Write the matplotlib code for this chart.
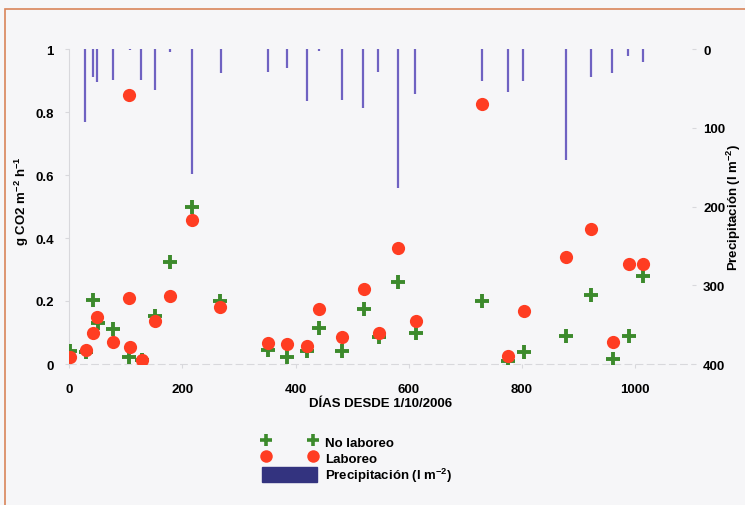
import matplotlib
matplotlib.use("Agg")
import matplotlib.pyplot as plt
from matplotlib.patches import Rectangle, Patch
from matplotlib.lines import Line2D
from matplotlib.ticker import FuncFormatter

plt.rcParams["font.family"] = ["Liberation Sans", "DejaVu Sans"]
plt.rcParams["font.weight"] = "bold"
plt.rcParams["axes.labelweight"] = "bold"
plt.rcParams["mathtext.fontset"] = "custom"
plt.rcParams["mathtext.rm"] = "Liberation Sans:bold"
plt.rcParams["mathtext.bf"] = "Liberation Sans:bold"
plt.rcParams["mathtext.default"] = "bf"

# Laboreo (tilled) flux, g CO2 m-2 h-1
lab_days = [1, 30, 43, 50, 78, 106, 106, 108, 129, 151, 179, 218, 267, 352, 385,
            421, 441, 482, 520, 547, 581, 612, 729, 776, 803, 878, 921, 960, 988, 1014]
lab_flux = [0.021, 0.044, 0.10, 0.15, 0.069, 0.855, 0.21, 0.055, 0.014, 0.136, 0.216,
            0.458, 0.18, 0.068, 0.065, 0.058, 0.175, 0.087, 0.237, 0.098, 0.368, 0.138,
            0.826, 0.024, 0.168, 0.339, 0.427, 0.071, 0.317, 0.317]

# No laboreo (no-till) flux
nol_days = [2, 30, 43, 51, 78, 106, 129, 151, 179, 218, 267, 352, 385, 421, 441, 482,
            520, 547, 581, 612, 729, 776, 803, 878, 921, 960, 988, 1014]
nol_flux = [0.042, 0.039, 0.203, 0.13, 0.111, 0.021, 0.012, 0.153, 0.324, 0.50, 0.201,
            0.044, 0.021, 0.042, 0.114, 0.042, 0.176, 0.085, 0.259, 0.099, 0.199, 0.011,
            0.039, 0.089, 0.219, 0.015, 0.089, 0.278]

# Precipitation, l m-2
rain_days = [29, 43, 49, 77, 107, 128, 151, 178, 218, 268, 352, 385, 421, 441, 482,
             519, 546, 581, 611, 729, 775, 802, 878, 922, 959, 987, 1014]
rain_mm = [93, 35, 42, 39, 1, 39, 52, 4, 159, 30, 29, 24, 66, 2, 65, 75, 29, 176, 57,
           41, 55, 41, 141, 36, 31, 9, 16]

bg = "#f6f6f8"
red = "#ff3d22"
green = "#3c8a2c"
bar_col = "#6f62c2"
axis_col = "#d8d8dc"

fig = plt.figure(figsize=(7.45, 5.06), dpi=100, facecolor=bg)
fig.patches.append(Rectangle((5 / 745, -0.1), 1.1, 1 - 10 / 506 + 0.1,
                             transform=fig.transFigure, fill=False,
                             edgecolor="#d9845a", linewidth=1.2))

ax = fig.add_axes([69 / 745, 1 - 365 / 506, 623 / 745, 315 / 506])
ax.set_facecolor(bg)
ax2 = ax.twinx()

ax2.vlines(rain_days, 0, rain_mm, color=bar_col, linewidth=1.6)
ax2.set_ylim(400, 0)
ax2.set_yticks([0, 100, 200, 300, 400])
ax2.set_ylabel("Precipitación (l m$^{-2}$)", fontsize=9.5)
ax2.yaxis.set_label_coords((725 - 69) / 623, 0.5)

ax.plot(nol_days, nol_flux, linestyle="none", marker="+", color=green,
        markersize=10, markeredgewidth=2.8, zorder=3)
ax.plot(lab_days, lab_flux, linestyle="none", marker="o", color=red,
        markersize=9.5, markeredgewidth=0, zorder=4)
ax.set_zorder(ax2.get_zorder() + 1)
ax.patch.set_visible(False)
ax2.patch.set_visible(True)
ax2.patch.set_facecolor(bg)

ax.set_xlim(0, 1100)
ax.set_ylim(0, 1)
ax.set_xticks([0, 200, 400, 600, 800, 1000])
ax.set_yticks([0, 0.2, 0.4, 0.6, 0.8, 1.0])
ax.yaxis.set_major_formatter(FuncFormatter(lambda v, p: f"{v:g}"))
ax.set_xlabel("DÍAS DESDE 1/10/2006", fontsize=9.5, labelpad=1)
ax.set_ylabel("g CO2 m$^{-2}$ h$^{-1}$", fontsize=9.5)
ax.yaxis.set_label_coords((31 - 69) / 623, 0.52)

for a in (ax, ax2):
    for s in a.spines.values():
        s.set_visible(False)
    a.tick_params(labelsize=9.5, length=3, color=axis_col, pad=8)
ax2.tick_params(axis="y", pad=5)
ax.spines["left"].set_visible(True)
ax.spines["left"].set_color(axis_col)
ax.spines["bottom"].set_visible(True)
ax.spines["bottom"].set_color(axis_col)
ax.spines["bottom"].set_linestyle((0, (6, 4)))
ax.tick_params(axis="x", pad=11)

handles = [
    Line2D([], [], linestyle="none", marker="+", color=green, markersize=9,
           markeredgewidth=2.6),
    Line2D([], [], linestyle="none", marker="o", color=red, markersize=9,
           markeredgewidth=0),
    Patch(facecolor="#33337f", edgecolor="#33337f"),
]
fig.legend(handles, ["No laboreo", "Laboreo", "Precipitación (l m$^{-2}$)"],
           loc="center", bbox_to_anchor=(357 / 745, 1 - 460 / 506), frameon=False,
           numpoints=2, handlelength=4.2, handleheight=1.4, fontsize=9.5,
           labelspacing=0.05, handletextpad=0.6)

fig.savefig("out.png", dpi=100, facecolor=bg)
